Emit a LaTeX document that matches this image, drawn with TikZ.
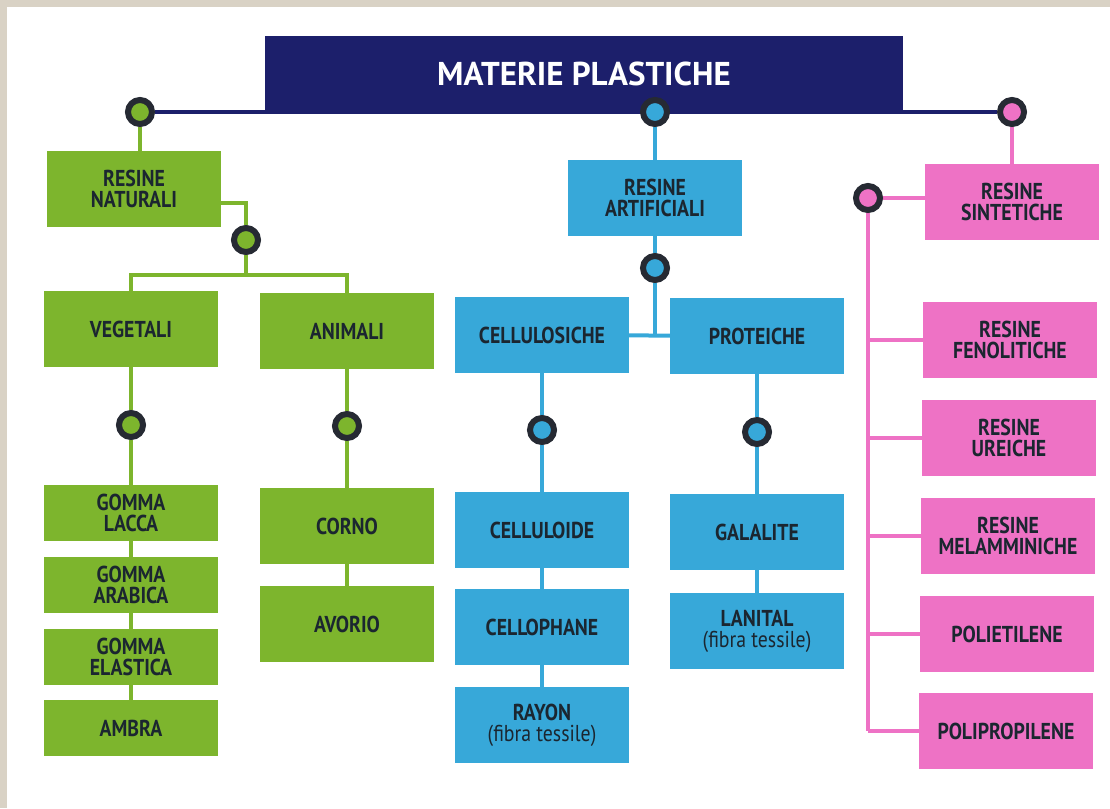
\documentclass[tikz,border=0pt]{standalone}
\usepackage{fontspec}
\usepackage{tikz}
\usetikzlibrary{backgrounds}
\newfontfamily\boxfont[FakeStretch=0.86]{PT Sans}
\newfontfamily\titlefont{PT Sans}
\definecolor{navy}{HTML}{1C1F6B}
\definecolor{ring}{HTML}{262A33}
\definecolor{ink}{HTML}{1B2630}
\definecolor{verde}{HTML}{7DB52D}
\definecolor{azzurro}{HTML}{37A8D9}
\definecolor{rosa}{HTML}{EE72C5}
\definecolor{carta}{HTML}{D9D2C5}

\begin{document}
\begin{tikzpicture}[x=1pt,y=-1pt,
    every node/.style={inner sep=0pt},
    box/.style={rectangle,minimum width=174pt,minimum height=76pt,align=center,
      text=ink,font=\boxfont\bfseries\fontsize{23}{21}\selectfont},
    small/.style={box,minimum height=56pt},
    knot/.style={circle,minimum size=24pt,draw=ring,line width=6pt},
    link/.style={line width=4pt}]
  \useasboundingbox (0,0) rectangle (1110,808);

  \node[rectangle,fill=navy,minimum width=638pt,minimum height=76pt,text=white,
    font=\titlefont\bfseries\fontsize{33}{34}\selectfont] (root) at (584,74) {MATERIE PLASTICHE};

  \node[knot,fill=verde] (k0) at (140,112) {};
  \node[knot,fill=azzurro] (kmid) at (655,112) {};
  \node[knot,fill=rosa] (kright) at (1012,112) {};

  \node[box,fill=verde] (nat) at (134,189) {RESINE\\NATURALI};
  \node[knot,fill=verde] (k1) at (246,240) {};
  \coordinate (gsplit) at (246,275);
  \node[box,fill=verde] (veg) at (131,329) {VEGETALI};
  \node[box,fill=verde] (ani) at (347,331) {ANIMALI};
  \node[knot,fill=verde] (kveg) at (131,425) {};
  \node[knot,fill=verde] (kani) at (347,426) {};
  \node[small,fill=verde] (lacca) at (131,513) {GOMMA\\LACCA};
  \node[small,fill=verde] (arabica) at (131,585) {GOMMA\\ARABICA};
  \node[small,fill=verde] (elastica) at (131,657) {GOMMA\\ELASTICA};
  \node[small,fill=verde] (ambra) at (131,728) {AMBRA};
  \node[box,fill=verde] (corno) at (347,526) {CORNO};
  \node[box,fill=verde] (avorio) at (347,624) {AVORIO};

  \node[box,fill=azzurro] (art) at (655,198) {RESINE\\ARTIFICIALI};
  \node[knot,fill=azzurro] (kart) at (655,268) {};
  \coordinate (bsplit) at (655,335);
  \node[box,fill=azzurro] (cellu) at (542,335) {CELLULOSICHE};
  \node[box,fill=azzurro] (prot) at (757,336) {PROTEICHE};
  \node[knot,fill=azzurro] (kcel) at (542,430) {};
  \node[knot,fill=azzurro] (kpro) at (757,432) {};
  \node[box,fill=azzurro] (celluloide) at (542,530) {CELLULOIDE};
  \node[box,fill=azzurro] (cellophane) at (542,627) {CELLOPHANE};
  \node[box,fill=azzurro] (rayon) at (542,725) {RAYON\\\mdseries(fibra tessile)};
  \node[box,fill=azzurro] (galalite) at (757,532) {GALALITE};
  \node[box,fill=azzurro] (lanital) at (757,631) {LANITAL\\\mdseries(fibra tessile)};

  \node[box,fill=rosa] (sint) at (1012,202) {RESINE\\SINTETICHE};
  \node[knot,fill=rosa] (kpink) at (868,198) {};
  \node[box,fill=rosa] (feno) at (1010,340) {RESINE\\FENOLITICHE};
  \node[box,fill=rosa] (ureiche) at (1009,438) {RESINE\\UREICHE};
  \node[box,fill=rosa] (melam) at (1008,536) {RESINE\\MELAMMINICHE};
  \node[box,fill=rosa] (polie) at (1007,634) {POLIETILENE};
  \node[box,fill=rosa] (polip) at (1006,731) {POLIPROPILENE};

  \begin{scope}[on background layer]
    \fill[carta] (0,0) rectangle (1110,808);
    \fill[white] (7,7) rectangle (1110,808);
    \draw[link,navy] (k0) -- (kright);
    \draw[link,verde] (k0) -- (k0 |- nat.north);
    \draw[link,verde] (nat.east |- 0,203) -| (k1);
    \draw[link,verde] (k1) -- (gsplit);
    \draw[link,verde] (veg.north) |- (gsplit);
    \draw[link,verde] (ani.north) |- (gsplit);
    \draw[link,verde] (veg) -- (kveg) -- (lacca) -- (arabica) -- (elastica) -- (ambra);
    \draw[link,verde] (ani) -- (kani) -- (corno) -- (avorio);
    \draw[link,azzurro] (kmid) -- (art) -- (kart) -- (bsplit);
    \draw[link,azzurro] (cellu) -- (prot);
    \draw[link,azzurro] (cellu) -- (kcel) -- (celluloide) -- (cellophane) -- (rayon);
    \draw[link,azzurro] (prot) -- (kpro) -- (galalite) -- (lanital);
    \draw[link,rosa] (kright) -- (sint);
    \draw[link,rosa] (kpink) -- (kpink -| sint.west);
    \draw[link,rosa] (kpink) -- (kpink |- polip);
    \foreach \n in {feno,ureiche,melam,polie,polip}
      \draw[link,rosa] (kpink |- \n) -- (\n);
  \end{scope}
\end{tikzpicture}
\end{document}
